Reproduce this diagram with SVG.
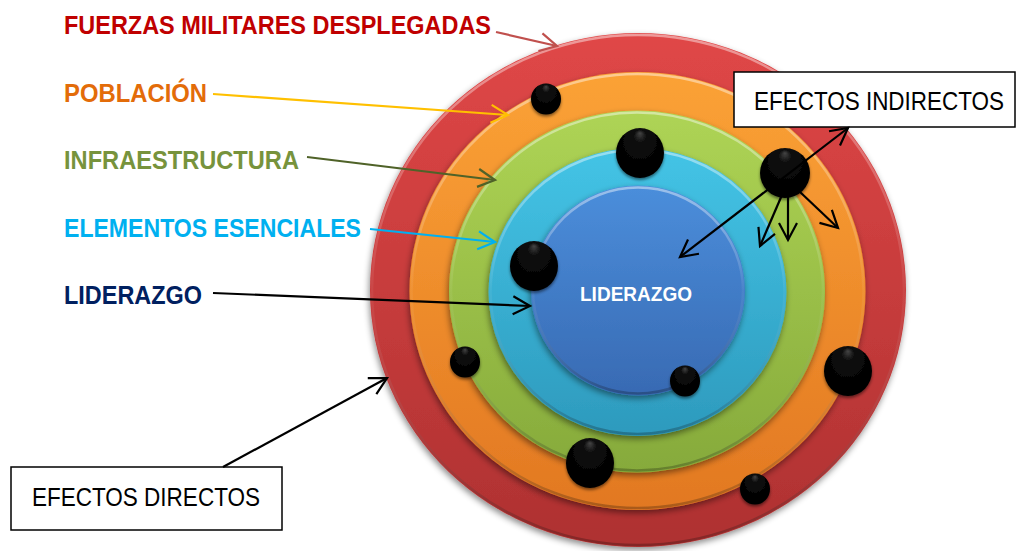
<svg xmlns="http://www.w3.org/2000/svg" width="1020" height="551" viewBox="0 0 1020 551">
<style>
.lbl{font-family:"Liberation Sans",Arial,sans-serif;font-weight:bold;font-size:26px}
.box{fill:#fff;stroke:#000;stroke-width:1.5}
.boxtxt{font-family:"Liberation Sans",Arial,sans-serif;font-size:25px;fill:#000}
.bevel{fill:none;stroke:url(#bevel);stroke-width:2.5}
.ball{fill:url(#ballg);filter:url(#bsh)}
.ln{fill:none;stroke-width:2.2}
</style>
<defs>
<filter id="sh" x="-10%" y="-10%" width="120%" height="125%">
<feDropShadow dx="-1" dy="3" stdDeviation="3" flood-color="#000" flood-opacity="0.45"/>
</filter>
<filter id="bsh" x="-30%" y="-30%" width="160%" height="170%">
<feDropShadow dx="0" dy="2" stdDeviation="1.5" flood-color="#000" flood-opacity="0.5"/>
</filter>
<linearGradient id="gRed" x1="0" y1="0" x2="0" y2="1"><stop offset="0" stop-color="#E04747"/><stop offset="1" stop-color="#AE3131"/></linearGradient>
<linearGradient id="gOra" x1="0" y1="0" x2="0" y2="1"><stop offset="0" stop-color="#FBA236"/><stop offset="1" stop-color="#E27822"/></linearGradient>
<linearGradient id="gGre" x1="0" y1="0" x2="0" y2="1"><stop offset="0" stop-color="#AED455"/><stop offset="1" stop-color="#86AA3B"/></linearGradient>
<linearGradient id="gCya" x1="0" y1="0" x2="0" y2="1"><stop offset="0" stop-color="#44C4E6"/><stop offset="1" stop-color="#2D9ABD"/></linearGradient>
<linearGradient id="gBlu" x1="0" y1="0" x2="0" y2="1"><stop offset="0" stop-color="#4B8EDB"/><stop offset="1" stop-color="#386AB3"/></linearGradient>
<linearGradient id="bevel" x1="0" y1="0" x2="0" y2="1"><stop offset="0" stop-color="#fff" stop-opacity="0.45"/><stop offset="0.5" stop-color="#fff" stop-opacity="0.05"/><stop offset="1" stop-color="#000" stop-opacity="0.25"/></linearGradient>
<radialGradient id="ballg" cx="50%" cy="40%" r="60%" fx="50%" fy="10%">
<stop offset="0" stop-color="#444"/><stop offset="0.22" stop-color="#0c0c0c"/><stop offset="1" stop-color="#000"/>
</radialGradient>
<marker id="mRed" viewBox="-19 -11 22 22" refX="0" refY="0" markerWidth="22" markerHeight="22" markerUnits="userSpaceOnUse" orient="auto-start-reverse"><path d="M-17,-9 L0,0 L-17,9" fill="none" stroke="#C0504D" stroke-width="2.2"/></marker>
<marker id="mYel" viewBox="-19 -11 22 22" refX="0" refY="0" markerWidth="22" markerHeight="22" markerUnits="userSpaceOnUse" orient="auto-start-reverse"><path d="M-17,-9 L0,0 L-17,9" fill="none" stroke="#FFC000" stroke-width="2.2"/></marker>
<marker id="mOli" viewBox="-19 -11 22 22" refX="0" refY="0" markerWidth="22" markerHeight="22" markerUnits="userSpaceOnUse" orient="auto-start-reverse"><path d="M-17,-9 L0,0 L-17,9" fill="none" stroke="#4F6228" stroke-width="2.2"/></marker>
<marker id="mCya" viewBox="-19 -11 22 22" refX="0" refY="0" markerWidth="22" markerHeight="22" markerUnits="userSpaceOnUse" orient="auto-start-reverse"><path d="M-17,-9 L0,0 L-17,9" fill="none" stroke="#00B0F0" stroke-width="2.2"/></marker>
<marker id="mBlk" viewBox="-19 -11 22 22" refX="0" refY="0" markerWidth="22" markerHeight="22" markerUnits="userSpaceOnUse" orient="auto-start-reverse"><path d="M-17,-9 L0,0 L-17,9" fill="none" stroke="#000" stroke-width="2.2"/></marker>
</defs>

<g id="ring-fuerzas">
<ellipse cx="638" cy="290" rx="268" ry="257" fill="url(#gRed)" filter="url(#sh)"/>
<ellipse class="bevel" cx="638" cy="290" rx="266" ry="255"/>
</g>
<g id="ring-poblacion">
<ellipse cx="637.5" cy="291" rx="228" ry="219" fill="url(#gOra)" filter="url(#sh)"/>
<ellipse class="bevel" cx="637.5" cy="291" rx="226" ry="217"/>
</g>
<g id="ring-infraestructura">
<ellipse cx="637" cy="291.5" rx="188" ry="181" fill="url(#gGre)" filter="url(#sh)"/>
<ellipse class="bevel" cx="637" cy="291.5" rx="186" ry="179"/>
</g>
<g id="ring-elementos">
<ellipse cx="637.5" cy="292" rx="149" ry="144" fill="url(#gCya)" filter="url(#sh)"/>
<ellipse class="bevel" cx="637.5" cy="292" rx="147" ry="142"/>
</g>
<g id="ring-liderazgo">
<ellipse cx="638" cy="290.5" rx="107" ry="105" fill="url(#gBlu)" filter="url(#sh)"/>
<ellipse class="bevel" cx="638" cy="290.5" rx="105" ry="103"/>
<text x="580" y="301" font-family="Liberation Sans, Arial, sans-serif" font-weight="bold" font-size="20" fill="#fff" textLength="112" lengthAdjust="spacingAndGlyphs">LIDERAZGO</text>
</g>

<g id="targets">
<ellipse class="ball" cx="546" cy="99" rx="15" ry="15.5"/>
<ellipse class="ball" cx="640" cy="153" rx="24" ry="25"/>
<ellipse class="ball" cx="785" cy="173" rx="25" ry="25"/>
<ellipse class="ball" cx="534" cy="266" rx="24" ry="25"/>
<ellipse class="ball" cx="465" cy="362" rx="15" ry="15.5"/>
<ellipse class="ball" cx="685" cy="381" rx="15" ry="15.5"/>
<ellipse class="ball" cx="590" cy="463" rx="24" ry="25"/>
<ellipse class="ball" cx="848" cy="371" rx="24" ry="25"/>
<ellipse class="ball" cx="755" cy="489" rx="15" ry="15.5"/>
</g>

<g id="label-fuerzas"><text class="lbl" x="64" y="34" fill="#C00000" textLength="427" lengthAdjust="spacingAndGlyphs">FUERZAS MILITARES DESPLEGADAS</text></g>
<g id="label-poblacion"><text class="lbl" x="64" y="101.5" fill="#E36C09" textLength="143" lengthAdjust="spacingAndGlyphs">POBLACIÓN</text></g>
<g id="label-infraestructura"><text class="lbl" x="64" y="169" fill="#77933C" textLength="235" lengthAdjust="spacingAndGlyphs">INFRAESTRUCTURA</text></g>
<g id="label-elementos"><text class="lbl" x="64" y="236.5" fill="#00B0F0" textLength="297" lengthAdjust="spacingAndGlyphs">ELEMENTOS ESENCIALES</text></g>
<g id="label-liderazgo"><text class="lbl" x="64" y="304" fill="#002060" textLength="138" lengthAdjust="spacingAndGlyphs">LIDERAZGO</text></g>

<g id="box-indirectos">
<rect class="box" x="734" y="72" width="281" height="55"/>
<text class="boxtxt" x="754" y="110" textLength="250" lengthAdjust="spacingAndGlyphs">EFECTOS INDIRECTOS</text>
</g>
<g id="box-directos">
<rect class="box" x="11" y="467" width="271" height="63"/>
<text class="boxtxt" x="32" y="505.5" textLength="228" lengthAdjust="spacingAndGlyphs">EFECTOS DIRECTOS</text>
</g>

<g id="connectors">
<path class="ln" d="M496,32 L557,46" stroke="#C0504D" marker-end="url(#mRed)"/>
<path class="ln" d="M213,94 L508,115" stroke="#FFC000" marker-end="url(#mYel)"/>
<path class="ln" d="M307,157 L495,180" stroke="#4F6228" stroke-width="2.6" marker-end="url(#mOli)"/>
<path class="ln" d="M370,229 L495,242" stroke="#00B0F0" marker-end="url(#mCya)"/>
<path class="ln" d="M213,293 L530,306" stroke="#000" stroke-width="2.6" marker-end="url(#mBlk)"/>
<path class="ln" d="M223,467 L387,378" stroke="#000" marker-end="url(#mBlk)"/>
<path class="ln" d="M680,257 L848,128" stroke="#000" marker-start="url(#mBlk)" marker-end="url(#mBlk)"/>
<path class="ln" d="M788,181 L760,246" stroke="#000" marker-end="url(#mBlk)"/>
<path class="ln" d="M788,181 L788,240" stroke="#000" marker-end="url(#mBlk)"/>
<path class="ln" d="M800,192 L838,228" stroke="#000" marker-end="url(#mBlk)"/>
</g>
</svg>
